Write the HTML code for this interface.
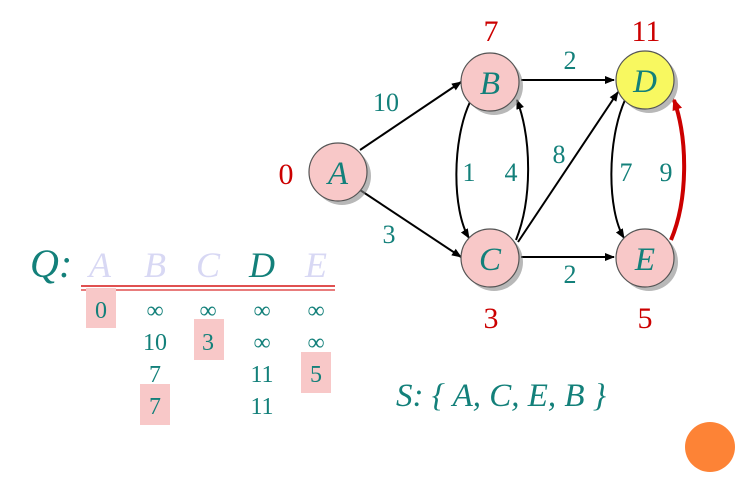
<!DOCTYPE html>
<html><head><style>body{margin:0;background:#fff}svg{display:block}</style></head><body>
<svg width="735" height="477" viewBox="0 0 735 477" xmlns="http://www.w3.org/2000/svg" font-family="Liberation Serif, serif">
<defs>
<marker id="ar" markerWidth="10" markerHeight="8" refX="9" refY="4" orient="auto" markerUnits="userSpaceOnUse"><path d="M0,0 L10,4 L0,8 z" fill="#000"/></marker>
<marker id="arr" markerWidth="12" markerHeight="10" refX="10" refY="5" orient="auto" markerUnits="userSpaceOnUse"><path d="M0,0 L12,5 L0,10 z" fill="#c00"/></marker>
</defs>
<g stroke="#000" stroke-width="2" fill="none">
<line x1="360" y1="150" x2="461" y2="82" marker-end="url(#ar)"/>
<line x1="360" y1="190" x2="461" y2="257" marker-end="url(#ar)"/>
<line x1="521" y1="80" x2="614" y2="80" marker-end="url(#ar)"/>
<line x1="521" y1="257" x2="614" y2="257" marker-end="url(#ar)"/>
<line x1="518" y1="242" x2="618" y2="92" marker-end="url(#ar)"/>
<path d="M470,102 C452,140 452,210 469,238" marker-end="url(#ar)"/>
<path d="M516,240 C532,200 532,140 517,100" marker-end="url(#ar)"/>
<path d="M625,100 C607,140 607,210 624,238" marker-end="url(#ar)"/>
</g>
<path d="M671,240 C688,200 688,140 674,100" stroke="#c00" stroke-width="4" fill="none" marker-end="url(#arr)"/>
<g stroke="#555" stroke-width="1.2">
<circle cx="342" cy="176" r="29" fill="#888" stroke="none" opacity="0.6"/>
<circle cx="494" cy="86" r="29" fill="#888" stroke="none" opacity="0.6"/>
<circle cx="494" cy="262" r="29" fill="#888" stroke="none" opacity="0.6"/>
<circle cx="649" cy="84" r="29" fill="#888" stroke="none" opacity="0.6"/>
<circle cx="649" cy="262" r="29" fill="#888" stroke="none" opacity="0.6"/>
<circle cx="338" cy="172" r="29" fill="#f8c8c8"/>
<circle cx="490" cy="82" r="29" fill="#f8c8c8"/>
<circle cx="490" cy="258" r="29" fill="#f8c8c8"/>
<circle cx="645" cy="80" r="29" fill="#f8f860"/>
<circle cx="645" cy="258" r="29" fill="#f8c8c8"/>
</g>
<g fill="#13807a" font-style="italic" font-size="33" text-anchor="middle">
<text x="338" y="184">A</text><text x="490" y="94">B</text><text x="490" y="270">C</text><text x="645" y="92">D</text><text x="645" y="270">E</text>
</g>
<g fill="#13807a" font-size="26" text-anchor="middle">
<text x="386" y="111">10</text><text x="389" y="243">3</text><text x="570" y="69">2</text><text x="570" y="283">2</text>
<text x="469" y="181">1</text><text x="511" y="181">4</text><text x="559" y="163">8</text><text x="626" y="181">7</text><text x="666" y="181">9</text>
</g>
<g fill="#c00" font-size="30" text-anchor="middle">
<text x="286" y="184">0</text><text x="491" y="41">7</text><text x="646" y="41">11</text><text x="491" y="328">3</text><text x="645" y="328">5</text>
</g>
<text x="30" y="277" font-size="40" font-style="italic" fill="#13807a">Q:</text>
<g font-size="36" font-style="italic" text-anchor="middle">
<text x="100" y="277" fill="#d8d8f4">A</text><text x="155" y="277" fill="#d8d8f4">B</text><text x="208" y="277" fill="#d8d8f4">C</text><text x="262" y="277" fill="#13807a">D</text><text x="316" y="277" fill="#d8d8f4">E</text>
</g>
<line x1="81" y1="286" x2="335" y2="286" stroke="#e05050" stroke-width="2"/>
<line x1="81" y1="290" x2="335" y2="290" stroke="#e05050" stroke-width="1.5"/>
<g fill="#f8c8c8">
<rect x="86" y="288" width="30" height="40"/><rect x="194" y="319" width="30" height="41"/><rect x="301" y="352" width="30" height="41"/><rect x="140" y="384" width="30" height="41"/>
</g>
<g fill="#13807a" font-size="24" text-anchor="middle">
<text x="101" y="318">0</text><text x="155" y="318">∞</text><text x="208" y="318">∞</text><text x="262" y="318">∞</text><text x="316" y="318">∞</text>
<text x="155" y="350">10</text><text x="208" y="350">3</text><text x="262" y="350">∞</text><text x="316" y="350">∞</text>
<text x="155" y="382">7</text><text x="262" y="382">11</text><text x="316" y="382">5</text>
<text x="155" y="414">7</text><text x="262" y="414">11</text>
</g>
<text x="396" y="406" font-size="33" font-style="italic" fill="#13807a">S: { A, C, E, B }</text>
<circle cx="710" cy="447" r="25" fill="#fd8336"/>
</svg>
</body></html>
